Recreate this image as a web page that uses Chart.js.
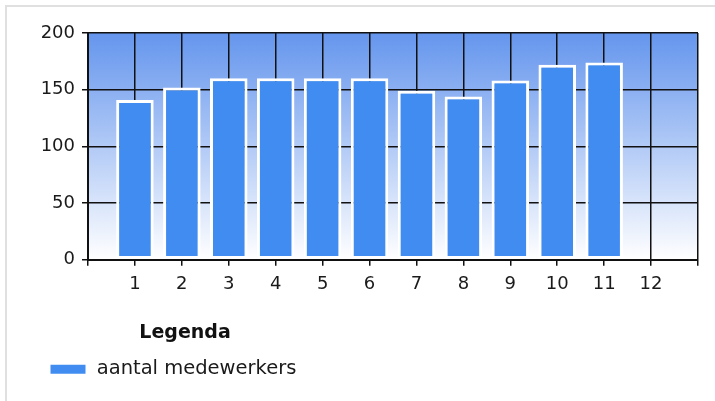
<!DOCTYPE html>
<html>
<head>
<meta charset="utf-8">
<title>aantal medewerkers</title>
<script src="https://cdn.jsdelivr.net/npm/chart.js@4.4.0/dist/chart.umd.min.js"></script>
<style>
  html, body { margin: 0; padding: 0; background: #fff; overflow: hidden; }
  .frame {
    position: absolute; left: 5px; top: 5px; width: 730px; height: 420px;
    border-left: 2px solid #e0e0e0; border-top: 2px solid #e0e0e0;
  }
  .wrap { position: absolute; left: 0; top: 0; width: 715px; height: 401px; }
</style>
</head>
<body>
<div class="frame"></div>
<div class="wrap"><canvas id="chart"></canvas></div>
<script>
// Chart data
const categories = [1, 2, 3, 4, 5, 6, 7, 8, 9, 10, 11, 12];
const medewerkers = [141, 152, 160, 160, 160, 160, 149, 144, 158, 172, 174, null];
const yTicks = [0, 50, 100, 150, 200];
const seriesLabel = 'aantal medewerkers';
const legendTitleText = 'Legenda';

const FONT = '"DejaVu Sans", sans-serif';

// Gradient behind the plot area
const plotBackground = {
    id: 'plotBackground',
    beforeDraw(chart) {
        const { ctx, chartArea: a } = chart;
        const g = ctx.createLinearGradient(0, a.top, 0, a.bottom);
        g.addColorStop(0, '#6495ed');
        g.addColorStop(1, '#ffffff');
        ctx.save();
        ctx.fillStyle = g;
        ctx.fillRect(a.left, a.top, a.right - a.left, a.bottom - a.top);
        ctx.restore();
    }
};

// Legend title sits a bit right of centre in the original
const legendTitle = {
    id: 'legendTitle',
    afterDraw(chart) {
        const lg = chart.legend;
        if (!lg) return;
        const ctx = chart.ctx;
        ctx.save();
        ctx.font = 'bold 19px ' + FONT;
        ctx.fillStyle = '#111';
        ctx.textAlign = 'center';
        ctx.textBaseline = 'middle';
        ctx.fillText(legendTitleText, lg.left + 147, lg.top + 31);
        ctx.restore();
    }
};

document.addEventListener('DOMContentLoaded', function() {
    const ctx = document.getElementById('chart').getContext('2d');
    new Chart(ctx, {
        type: 'bar',
        data: {
            datasets: [{
                label: seriesLabel,
                data: categories.map((c, i) => ({ x: c, y: medewerkers[i] })),
                backgroundColor: '#418cf0',
                borderColor: '#ffffff',
                borderWidth: 3,
                borderSkipped: false,
                categoryPercentage: 1,
                barPercentage: 0.8
            }]
        },
        options: {
            responsive: true,
            maintainAspectRatio: false,
            animation: false,
            layout: { padding: { left: 38, right: 17, top: 33, bottom: 12 } },
            scales: {
                x: {
                    type: 'linear',
                    offset: false,
                    min: 0,
                    max: categories.length + 1,
                    afterBuildTicks: s => {
                        s.ticks = [0, ...categories, categories.length + 1].map(v => ({ value: v }));
                    },
                    afterFit: s => { s.height = 42; },
                    ticks: {
                        autoSkip: false,
                        maxRotation: 0,
                        padding: 8,
                        color: '#1a1a1a',
                        font: { family: FONT, size: 18 },
                        callback: v => categories.includes(v) ? String(v) : ''
                    },
                    grid: { offset: false, color: '#111', lineWidth: 1.5, tickLength: 6 },
                    border: { display: true, color: '#111', width: 2 }
                },
                y: {
                    min: 0,
                    max: 200,
                    afterBuildTicks: s => {
                        s.ticks = yTicks.map(v => ({ value: v }));
                    },
                    afterFit: s => { s.width = 50; },
                    ticks: {
                        padding: 7,
                        color: '#1a1a1a',
                        font: { family: FONT, size: 18 }
                    },
                    grid: { color: '#111', lineWidth: 1.5, tickLength: 6 },
                    border: { display: true, color: '#111', width: 2 }
                }
            },
            plugins: {
                tooltip: { enabled: false },
                legend: {
                    position: 'bottom',
                    align: 'start',
                    title: {
                        display: true,
                        text: legendTitleText,
                        color: 'transparent',
                        font: { family: FONT, size: 19, weight: 'bold' },
                        padding: { top: 21, bottom: 3 }
                    },
                    labels: {
                        boxWidth: 38,
                        boxHeight: 12,
                        padding: 11,
                        color: '#1a1a1a',
                        font: { family: FONT, size: 19.5 }
                    }
                }
            }
        },
        plugins: [plotBackground, legendTitle]
    });
});
</script>
</body>
</html>
